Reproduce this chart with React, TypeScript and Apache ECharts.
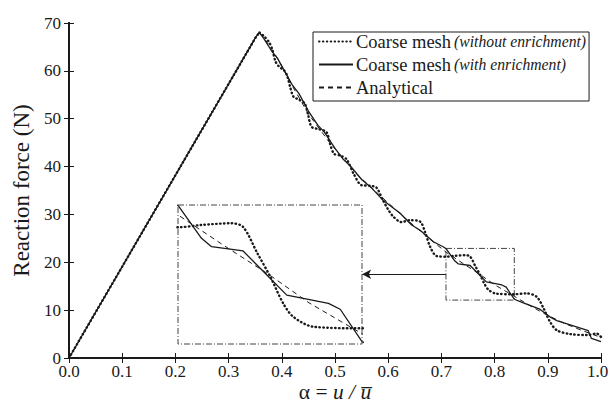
import React, { useEffect, useRef } from "react";
import * as echarts from "echarts";

// ---- data (alpha = u / u_bar, reaction force in N) ----
// coarse mesh without enrichment: loading branch (straight) and softening branch (wavy)
const withoutEnrichmentLoading: [number, number][] = [
  [0, 0], [0.352, 67.2], [0.358, 68.0],
];
const withoutEnrichmentSoftening: [number, number][] = [
  [0.358, 68.0], [0.366, 67.3], [0.376, 66.0], [0.382, 64.5],
  [0.388, 62.0], [0.394, 61.0], [0.405, 60.0], [0.41, 59.0], [0.416, 56.5], [0.422, 54.6],
  [0.432, 54.0], [0.443, 53.2], [0.449, 51.0], [0.456, 48.3], [0.47, 47.8], [0.484, 47.2],
  [0.49, 45.0], [0.498, 42.7], [0.51, 42.3], [0.522, 41.5], [0.535, 38.5], [0.55, 36.1],
  [0.565, 36.0], [0.578, 35.6], [0.59, 33.0], [0.6, 31.0], [0.61, 29.5], [0.625, 28.4],
  [0.641, 28.8], [0.66, 28.5], [0.669, 26.4], [0.679, 23.2], [0.691, 21.3], [0.709, 21.17],
  [0.725, 21.35], [0.746, 21.48], [0.754, 21.2], [0.764, 19.15], [0.773, 17.33], [0.782, 15.26],
  [0.789, 14.22], [0.803, 13.44], [0.837, 13.32], [0.86, 13.5], [0.879, 12.8], [0.892, 10.4],
  [0.904, 7.6], [0.917, 5.8], [0.942, 5.0], [0.973, 4.8], [0.992, 5.1], [1.0, 4.4],
];

const withEnrichment: [number, number][] = [
  [0, 0], [0.352, 67.2], [0.358, 68.0], [0.366, 66.8], [0.38, 64.3], [0.392, 62.6],
  [0.405, 60.0], [0.42, 57.0], [0.432, 55.3], [0.45, 51.6], [0.468, 48.6], [0.48, 47.2],
  [0.5, 43.8], [0.515, 41.6], [0.53, 40.0], [0.55, 37.3], [0.57, 35.4], [0.59, 33.0],
  [0.605, 31.7], [0.622, 30.3], [0.644, 27.8], [0.66, 26.7], [0.685, 24.3], [0.704, 23.2],
  [0.709, 22.82], [0.725, 20.31], [0.732, 19.66], [0.754, 19.33], [0.7845, 15.9],
  [0.8136, 15.26], [0.8218, 14.8], [0.837, 12.28], [0.854, 11.5], [0.885, 10.2], [0.904, 8.6],
  [0.917, 7.8], [0.948, 6.7], [0.976, 5.7], [0.982, 4.1], [1.0, 3.4],
];

const analytical: [number, number][] = [
  [0, 0], [0.352, 67.2], [0.358, 68.0], [0.366, 67.0], [0.39, 63.0], [0.42, 56.8],
  [0.45, 51.0], [0.49, 45.0], [0.54, 38.5], [0.59, 33.4], [0.63, 29.4], [0.67, 25.6],
  [0.709, 22.1], [0.74, 19.8], [0.772, 17.5], [0.8, 15.3], [0.837, 12.9], [0.87, 10.7],
  [0.9, 8.9], [0.93, 7.3], [0.954, 6.2], [0.98, 5.1], [1.0, 4.3],
];

const seriesNames = [
  "Coarse mesh (without enrichment)",
  "Coarse mesh (with enrichment)",
  "Analytical",
];

// zoomed window (source box) in data coordinates
const zoomAlpha: [number, number] = [0.7086, 0.837];
const zoomForce: [number, number] = [12.1, 22.9];
// arrow from source box to the inset
const arrowAlpha: [number, number] = [0.7086, 0.551];
const arrowForce = 17.5;

const alphaRange: [number, number] = [0, 1];
const alphaStep = 0.1;
const forceRange: [number, number] = [0, 70];
const forceStep = 10;

// layout
const MAIN_GRID = { left: 69, top: 23, width: 532, height: 335, outerBoundsMode: "none" };
const INSET_GRID = { left: 178, top: 205, width: 184, height: 139, outerBoundsMode: "none" };
const X_TITLE_POS = { x: 335, y: 392 };

const FONT = "Liberation Serif";
const INK = "#1a1a1a";

const dottedStyle = { color: INK, width: 2.4, type: [0.5, 3.4] as number[], cap: "round" as const };
const solidStyle = { color: INK, width: 1.3, type: "solid" as const };
const dashedStyle = { color: INK, width: 1, type: [5, 4] as number[] };
const dashDot = [6, 2, 1, 2];

function buildOption(): any {
  const axisLineStyle = { lineStyle: { color: INK, width: 2 } };
  const tick = { show: true, inside: true, length: 5, lineStyle: { color: INK, width: 1 } };
  const base = (axis: number) => ({
    type: "line",
    xAxisIndex: axis,
    yAxisIndex: axis,
    symbol: "none",
    clip: true,
  });
  const mkSeries = (axis: number, nameSuffix: string) => [
    {
      ...base(axis),
      name: seriesNames[0] + nameSuffix,
      data: withoutEnrichmentLoading,
      lineStyle: dottedStyle,
      z: 2,
    },
    {
      ...base(axis),
      name: seriesNames[0] + nameSuffix,
      data: withoutEnrichmentSoftening,
      smooth: 0.3,
      lineStyle: dottedStyle,
      z: 2,
    },
    {
      ...base(axis),
      name: seriesNames[1] + nameSuffix,
      data: withEnrichment,
      lineStyle: solidStyle,
      z: 3,
    },
    {
      ...base(axis),
      name: seriesNames[2] + nameSuffix,
      data: analytical,
      lineStyle: dashedStyle,
      z: 4,
    },
  ];

  const main = mkSeries(0, "");
  (main[3] as any).markArea = {
    silent: true,
    itemStyle: {
      color: "rgba(0,0,0,0)",
      borderColor: "#444",
      borderWidth: 1,
      borderType: dashDot,
    },
    data: [[{ coord: [zoomAlpha[0], zoomForce[1]] }, { coord: [zoomAlpha[1], zoomForce[0]] }]],
  };
  (main[3] as any).markLine = {
    silent: true,
    symbol: ["none", "arrow"],
    symbolSize: [7, 9],
    label: { show: false },
    lineStyle: { color: INK, width: 1, type: "solid" },
    data: [[{ coord: [arrowAlpha[0], arrowForce] }, { coord: [arrowAlpha[1], arrowForce] }]],
  };

  const inset = mkSeries(2, " inset");

  return {
    animation: false,
    backgroundColor: "#fff",
    textStyle: { fontFamily: FONT, color: INK },
    grid: [MAIN_GRID, INSET_GRID],
    graphic: [
      {
        type: "rect",
        silent: true,
        z: 10,
        shape: {
          x: INSET_GRID.left,
          y: INSET_GRID.top,
          width: INSET_GRID.width,
          height: INSET_GRID.height,
        },
        style: { fill: "none", stroke: "#444", lineWidth: 1, lineDash: dashDot },
      },
      {
        type: "text",
        silent: true,
        z: 10,
        x: X_TITLE_POS.x,
        y: X_TITLE_POS.y,
        style: {
          text: "{r|α =} {i|u / u\u0305}",
          align: "center",
          verticalAlign: "middle",
          fill: INK,
          font: "21.5px " + FONT,
          rich: {
            r: { fontFamily: FONT, fontSize: 21.5, fill: INK, color: INK },
            i: { fontFamily: FONT, fontSize: 21.5, fontStyle: "italic", fill: INK, color: INK },
          },
        },
      },
    ],
    legend: {
      data: seriesNames,
      orient: "vertical",
      left: 313,
      top: 32,
      itemWidth: 34,
      itemHeight: 12,
      itemGap: 4,
      padding: [0, 3, 4, 5],
      borderColor: INK,
      borderWidth: 1,
      backgroundColor: "#fff",
      selectedMode: false,
      itemStyle: { opacity: 0 },
      formatter: (name: string) => {
        const i = name.indexOf(" (");
        if (i < 0) return "{m|" + name + "}";
        return "{m|" + name.slice(0, i) + "} {i|" + name.slice(i + 1) + "}";
      },
      textStyle: {
        fontFamily: FONT,
        color: INK,
        padding: [0, 0, 0, -2],
        rich: {
          m: { fontFamily: FONT, fontSize: 18.5, color: INK },
          i: { fontFamily: FONT, fontSize: 15.7, fontStyle: "italic", color: INK },
        },
      },
    },
    xAxis: [
      {
        type: "value",
        gridIndex: 0,
        min: alphaRange[0],
        max: alphaRange[1],
        interval: alphaStep,
        position: "bottom",
        axisLine: axisLineStyle,
        axisTick: tick,
        splitLine: { show: false },
        axisLabel: {
          fontFamily: FONT,
          fontSize: 17,
          color: INK,
          margin: 5,
          formatter: (v: number) => (v >= alphaRange[1] ? "{last|" + v.toFixed(1) + "}" : v.toFixed(1)),
          rich: {
            last: { fontFamily: FONT, fontSize: 17, color: INK, padding: [0, 7, 0, 0] },
          },
        },
      },
      {
        type: "value",
        gridIndex: 0,
        min: alphaRange[0],
        max: alphaRange[1],
        interval: alphaStep,
        position: "top",
        axisLine: axisLineStyle,
        axisTick: tick,
        axisLabel: { show: false },
        splitLine: { show: false },
      },
      {
        type: "value",
        gridIndex: 1,
        min: zoomAlpha[0],
        max: zoomAlpha[1],
        show: false,
        splitLine: { show: false },
      },
    ],
    yAxis: [
      {
        type: "value",
        gridIndex: 0,
        min: forceRange[0],
        max: forceRange[1],
        interval: forceStep,
        position: "left",
        axisLine: axisLineStyle,
        axisTick: tick,
        splitLine: { show: false },
        axisLabel: { fontFamily: FONT, fontSize: 17, color: INK, margin: 8 },
        name: "Reaction force (N)",
        nameLocation: "middle",
        nameGap: 20,
        nameTextStyle: { fontFamily: FONT, fontSize: 23, color: INK },
      },
      {
        type: "value",
        gridIndex: 0,
        min: forceRange[0],
        max: forceRange[1],
        interval: forceStep,
        position: "right",
        axisLine: axisLineStyle,
        axisTick: tick,
        axisLabel: { show: false },
        splitLine: { show: false },
      },
      {
        type: "value",
        gridIndex: 1,
        min: zoomForce[0],
        max: zoomForce[1],
        show: false,
        splitLine: { show: false },
      },
    ],
    series: [...main, ...inset],
  };
}

export default function App() {
  const ref = useRef<HTMLDivElement>(null);
  useEffect(() => {
    if (!ref.current) return;
    const chart = echarts.init(ref.current, null, { renderer: "svg" });
    chart.setOption(buildOption());
    return () => chart.dispose();
  }, []);
  return (
    <div
      ref={ref}
      style={{ position: "absolute", left: 0, top: 0, width: 610, height: 403, background: "#fff" }}
    />
  );
}
